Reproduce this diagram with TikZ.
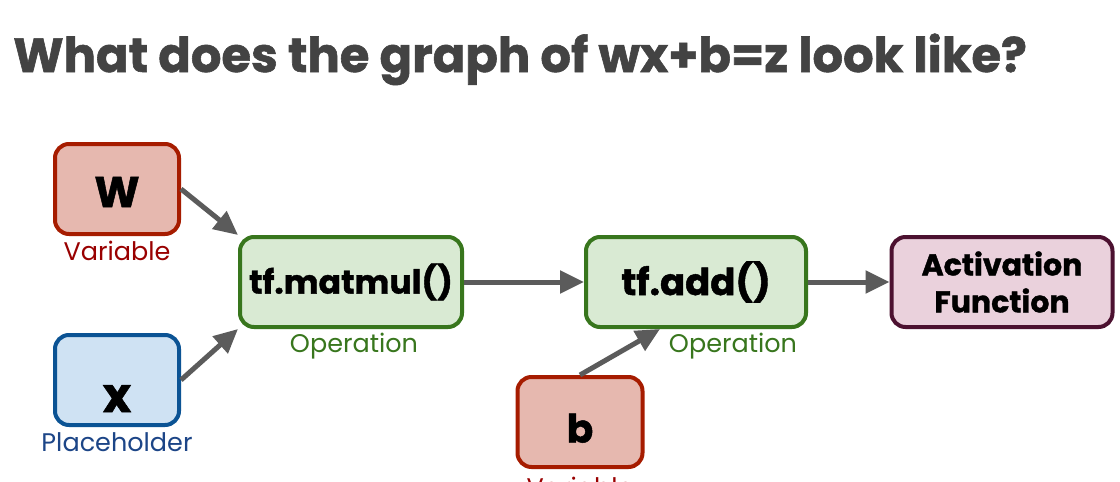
\documentclass[tikz,border=0pt]{standalone}
\usepackage{fontspec}
\setmainfont{Poppins}
\newfontfamily\heavyfont[BoldFeatures={FakeBold=1.2}]{Poppins}
\usetikzlibrary{arrows.meta,positioning}

\definecolor{titlegray}{HTML}{434343}
\definecolor{arrowgray}{HTML}{5B5B5B}
\definecolor{varred}{HTML}{A61C00}
\definecolor{varfill}{HTML}{E6B8AF}
\definecolor{vartext}{HTML}{990000}
\definecolor{phblue}{HTML}{0B5394}
\definecolor{phfill}{HTML}{CFE2F3}
\definecolor{phtext}{HTML}{1C4587}
\definecolor{opgreen}{HTML}{38761D}
\definecolor{opfill}{HTML}{D9EAD3}
\definecolor{actred}{HTML}{4C1130}
\definecolor{actfill}{HTML}{EAD1DC}

\begin{document}
\begin{tikzpicture}[x=1pt,y=-1pt,
	    TFblock/.style= {
	        draw, line width=4pt, rounded corners=14pt,
	        minimum height=90pt, inner sep=0pt, align=center,
	        font=\heavyfont\bfseries\fontsize{33}{37}\selectfont},
	    TFletter/.style= {text depth=0pt, text height=#1},
	    TFlabel/.style= {font=\fontsize{25.5}{28}\selectfont},
	    TFarrow/.style= {-{Triangle[length=24pt,width=22pt]},
	        line width=5pt, draw=arrowgray}]

		\useasboundingbox[fill=white] (0,0) rectangle (1120,482);

		% Title
		\node[anchor=base west, text=titlegray, inner sep=0pt,
		    font=\heavyfont\bfseries\fontsize{48}{56}\selectfont] (title) at (13,72)
		    {What does the graph of wx+b=z look like?};

		% Blocks
		\node [TFblock,draw=varred,fill=varfill,minimum width=124pt,TFletter=36pt,
		    font=\heavyfont\bfseries\fontsize{43}{50}\selectfont] (w) at (117,189) {W};
		\node [TFblock,draw=phblue,fill=phfill,minimum width=124pt,TFletter=64pt,
		    font=\heavyfont\bfseries\fontsize{48}{60}\selectfont] (x) at (117,380) {x};
		\node [TFblock,draw=opgreen,fill=opfill,minimum width=222pt] (mm) at (351,282) {tf.matmul()};
		\node [TFblock,draw=opgreen,fill=opfill,minimum width=220pt,
		    font=\heavyfont\bfseries\fontsize{37}{40}\selectfont] (add) at (696,282) {tf.add()};
		\node [TFblock,draw=actred,fill=actfill,minimum width=221pt,
		    font=\heavyfont\bfseries\fontsize{30}{37}\selectfont] (act) at (1002,282) {Activation\\Function};
		\node [TFblock,draw=varred,fill=varfill,minimum width=125pt,TFletter=41pt,
		    font=\heavyfont\bfseries\fontsize{39}{50}\selectfont] (b) at (580,422) {b};

		% Arrows
		\draw[TFarrow] (w.east) -- (mm.north west);
		\draw[TFarrow] (x.east) -- (mm.south west);
		\draw[TFarrow] (mm.east) -- (add.west);
		\draw[TFarrow] (add.east) -- (act.west);
		\draw[TFarrow] (b.north) -- ([xshift=-36pt]add.south);

		% Labels
		\node[TFlabel,text=vartext] (wlab) at (117,251) {Variable};
		\node[TFlabel,text=phtext] (xlab) at (117,442) {Placeholder};
		\node[TFlabel,text=opgreen] (mmlab) at (354,346) {Operation};
		\node[TFlabel,text=opgreen] (addlab) at (733,346) {Operation};
		\node[TFlabel,text=vartext] (blab) at (580,487) {Variable};

	\end{tikzpicture}
\end{document}
